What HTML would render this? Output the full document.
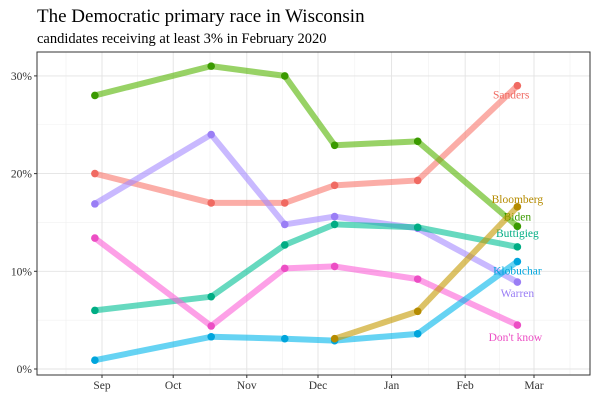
<!DOCTYPE html>
<html><head><meta charset="utf-8"><style>
body{margin:0;background:#fff;}
svg{display:block;font-family:"Liberation Serif",serif;}
</style></head><body>
<svg id="chart" width="600" height="400">
<text x="37" y="22" font-size="19" fill="#000">The Democratic primary race in Wisconsin</text>
<text x="37" y="43" font-size="14.5" fill="#000">candidates receiving at least 3% in February 2020</text>
<g id="grid"></g><g id="marks"></g><g id="axes"></g>
</svg>
<script>
const dates=["2019-08-29","2019-10-17","2019-11-17","2019-12-08","2020-01-12","2020-02-23"];
const sanders=[20,17,17,18.8,19.3,29];
const warren=[16.9,24,14.8,15.6,14.4,8.9];
const biden=[28,31,30,22.9,23.3,14.6];
const buttigieg=[6,7.4,12.7,14.8,14.5,12.5];
const dontknow=[13.4,4.4,10.3,10.5,9.2,4.5];
const klobuchar=[0.9,3.3,3.1,2.9,3.6,11];
const bloomberg=[null,null,null,3.1,5.9,16.6];
const monthLabels=["Sep","Oct","Nov","Dec","Jan","Feb","Mar"];
const monthDates=["2019-09-01","2019-10-01","2019-11-01","2019-12-01","2020-01-01","2020-02-01","2020-03-01"];
const yTicks=[0,10,20,30];

const NS="http://www.w3.org/2000/svg";
const L=37,R=590,T=52,B=375;
const d0=Date.parse("2019-09-01"),d1=Date.parse("2020-03-01");
function x(d){return 102+(Date.parse(d)-d0)/(d1-d0)*432;}
function y(v){return 369-v*9.77;}
function mk(t,a,p){const e=document.createElementNS(NS,t);for(const k in a)e.setAttribute(k,a[k]);p.appendChild(e);return e;}
const grid=document.getElementById('grid'),marks=document.getElementById('marks'),axes=document.getElementById('axes');
for(let i=0;i<monthDates.length-1;i++){const xm=(x(monthDates[i])+x(monthDates[i+1]))/2;
 const g=mk('line',{x1:xm,x2:xm,y1:T,y2:B,stroke:'#f0f0f0','stroke-width':0.6},grid);
 }
[x("2019-09-01")-36,x("2020-03-01")+36].forEach(xm=>{const g=mk('line',{x1:xm,x2:xm,y1:T,y2:B,stroke:'#f0f0f0','stroke-width':0.6},grid);
 });
[5,15,25,35].forEach(v=>{if(y(v)<T)return;const g=mk('line',{x1:L,x2:R,y1:y(v),y2:y(v),stroke:'#f0f0f0','stroke-width':0.6},grid);
 });
monthDates.forEach(d=>{const g=mk('line',{x1:x(d),x2:x(d),y1:T,y2:B,stroke:'#e3e3e3','stroke-width':0.9},grid);
 });
yTicks.forEach(v=>{const g=mk('line',{x1:L,x2:R,y1:y(v),y2:y(v),stroke:'#e3e3e3','stroke-width':0.9},grid);
 });

const series=[
 ["sanders",sanders,"#f8766d","Sanders",0,13,"end"],
 ["warren",warren,"#a58aff","Warren",0,15,"middle"],
 ["biden",biden,"#53b400","Biden",0,-6,"middle"],
 ["buttigieg",buttigieg,"#00c094","Buttigieg",0,-10,"middle"],
 ["dont-know",dontknow,"#fb61d7","Don't know",-2,16,"middle"],
 ["klobuchar",klobuchar,"#00b6eb","Klobuchar",0,13,"middle"],
 ["bloomberg",bloomberg,"#c49a00","Bloomberg",0,-4,"middle"]];
const colDark={sanders:"#f06a62",warren:"#9a7ef5",biden:"#3a9a00",buttigieg:"#00ad84","dont-know":"#ec4ec4",klobuchar:"#00a5dc",bloomberg:"#b58b00"};
series.forEach(([id,vals,c,label,dx,dy,anch])=>{
 let pts=[];vals.forEach((v,i)=>{if(v!=null)pts.push([x(dates[i]),y(v)]);});
 const pl=mk('polyline',{points:pts.map(p=>p.join(',')).join(' '),fill:'none',stroke:c,'stroke-width':6,'stroke-opacity':0.6,'stroke-linejoin':'round'},marks);
 
 vals.forEach((v,i)=>{if(v==null)return;const c2=mk('circle',{cx:x(dates[i]),cy:y(v),r:3.8,fill:colDark[id]},marks);
  });
 const last=vals[vals.length-1];
 const t=mk('text',{x:x(dates[5])+dx+(anch==="end"?12:0),y:y(last)+dy,'font-size':11.5,fill:colDark[id],'text-anchor':anch},marks);
 t.textContent=label;
});
const fr=mk('rect',{x:L,y:T,width:R-L,height:B-T,fill:'none',stroke:'#333','stroke-width':1},axes);

yTicks.forEach(v=>{const tk=mk('line',{x1:L-3,x2:L,y1:y(v),y2:y(v),stroke:'#333'},axes);
 
 const t=mk('text',{x:L-5,y:y(v)+4,'font-size':11.5,'text-anchor':'end',fill:'#333'},axes);t.textContent=v+'%';
 });
monthDates.forEach((d,i)=>{const tk=mk('line',{x1:x(d),x2:x(d),y1:B,y2:B+3,stroke:'#333'},axes);
 
 const t=mk('text',{x:x(d),y:B+14,'font-size':11.5,'text-anchor':'middle',fill:'#333'},axes);t.textContent=monthLabels[i];
 });
</script>
</body></html>
